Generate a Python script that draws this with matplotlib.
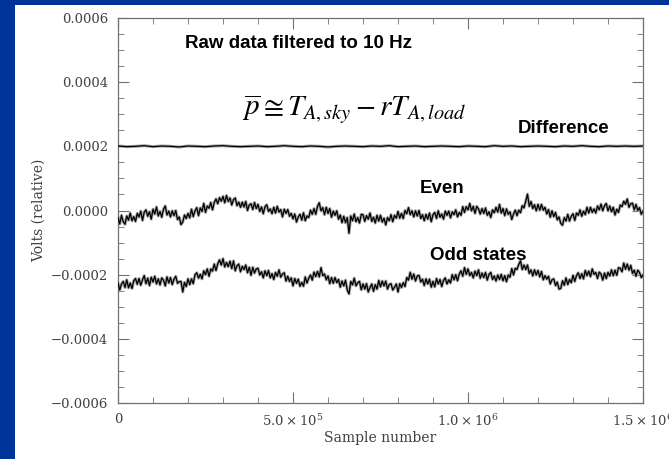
import numpy as np
import matplotlib
matplotlib.use("Agg")
import matplotlib.pyplot as plt
from matplotlib.patches import Rectangle
from matplotlib.ticker import MultipleLocator

# signal levels in microvolts, evenly spaced over 0 .. 1.5e6 samples
even_uv = [-22, -42, -15, -35, -43, -17, -30, -8, -32, -19,
           -34, -9, -20, -2, -31, -5, 2, -18, -4, -27,
           4, -11, 11, -17, -3, -21, 4, 14, -14, -2,
           -20, -1, -16, 0, -28, -20, -44, -36, -14, -25,
           -9, -23, 4, -19, -1, 9, -16, 8, -3, 22,
           -6, 14, 7, 25, 2, 25, 36, 21, 40, 29,
           44, 24, 47, 28, 39, 17, 34, 39, 15, 26,
           10, 26, 11, 28, 0, 17, 21, 3, 25, 6,
           19, -3, 11, -10, 12, 18, -3, 5, -10, 10,
           -8, 13, -5, 3, -20, 4, -9, 3, -18, -9,
           -26, -11, -36, -20, -12, -30, -7, -32, -17, -22,
           1, -12, 6, -12, 13, 24, -1, 9, -13, 10,
           -9, 6, -21, -2, -15, -1, -27, -14, -38, -18,
           -38, -22, -71, -17, -32, -11, -35, -22, -39, -12,
           -13, -34, -16, -27, -8, -34, -21, -39, -15, -33,
           -15, -36, -24, -45, -22, -32, -13, -35, -15, -24,
           -3, -24, -9, -25, 0, -10, 9, -13, -1, -20,
           -1, -17, 0, -25, -13, -32, -12, -27, -8, -35,
           -13, -6, -25, -1, -21, -11, -27, -2, -15, -2,
           -23, -4, -13, 2, -20, -6, -15, 12, -6, 12,
           2, 22, -1, 13, -9, 13, 5, -11, 6, -9,
           8, -15, -4, -22, 2, -7, 10, -5, 19, -8,
           6, -16, 5, -12, -4, -28, -11, 1, -16, 1,
           -7, 15, 8, 30, 51, 13, 28, 6, 18, -1,
           19, 1, 19, 1, 10, -11, 3, -21, -1, -19,
           -6, -29, -20, -40, -46, -22, -33, -12, -33, -18,
           -10, -31, -8, -15, 2, -18, -2, -13, 10, -8,
           10, -6, 5, -8, 14, 2, 20, -1, 15, 22,
           -1, 14, -4, 10, -14, 4, -6, 17, 12, 29,
           19, 36, 10, 21, 23, 2, 19, 0, 9, -12,
           -2]
odd_uv = [-226, -248, -229, -221, -240, -216, -241, -226, -243, -219,
          -212, -230, -212, -233, -216, -203, -228, -211, -234, -208,
          -223, -205, -229, -213, -232, -210, -217, -235, -207, -226,
          -209, -231, -214, -205, -227, -222, -221, -254, -224, -237,
          -213, -231, -213, -228, -200, -194, -211, -199, -213, -188,
          -200, -182, -205, -182, -189, -167, -187, -166, -154, -170,
          -150, -176, -162, -175, -158, -181, -157, -188, -172, -167,
          -191, -174, -184, -170, -194, -177, -202, -177, -195, -182,
          -180, -201, -191, -210, -188, -203, -187, -210, -197, -215,
          -193, -205, -185, -208, -198, -194, -220, -205, -221, -210,
          -235, -212, -227, -214, -236, -224, -236, -207, -226, -211,
          -201, -217, -192, -206, -190, -207, -178, -203, -198, -216,
          -204, -228, -209, -227, -209, -225, -215, -239, -220, -235,
          -217, -248, -260, -221, -232, -211, -235, -225, -221, -247,
          -229, -245, -228, -254, -240, -229, -252, -231, -245, -218,
          -238, -220, -235, -220, -245, -231, -228, -248, -239, -229,
          -254, -228, -240, -225, -237, -209, -217, -193, -214, -198,
          -220, -204, -202, -223, -214, -234, -213, -229, -214, -239,
          -221, -238, -212, -229, -215, -237, -218, -210, -229, -216,
          -226, -200, -216, -200, -219, -198, -188, -205, -178, -199,
          -182, -203, -193, -210, -189, -203, -185, -211, -195, -209,
          -193, -217, -199, -193, -215, -204, -220, -201, -215, -199,
          -219, -203, -222, -201, -208, -181, -201, -180, -184, -168,
          -157, -184, -170, -184, -170, -196, -185, -204, -185, -201,
          -187, -207, -190, -216, -203, -214, -205, -229, -216, -213,
          -234, -223, -245, -243, -219, -233, -210, -231, -215, -225,
          -202, -221, -203, -194, -212, -197, -213, -187, -203, -189,
          -206, -182, -199, -193, -212, -192, -198, -217, -195, -212,
          -193, -204, -185, -203, -186, -202, -178, -180, -191, -164,
          -183, -167, -186, -171, -196, -186, -205, -186, -193, -209,
          -201]
diff_uv = [201, 199, 200, 202, 199, 201, 200, 198, 201, 200,
           199, 201, 202, 200, 199, 200, 201, 199, 200, 202,
           200, 199, 201, 200, 198, 200, 201, 200, 199, 201,
           200, 202, 199, 200, 201, 199, 200, 201, 200, 199,
           201, 200, 199, 202, 200, 201, 199, 200, 201, 200,
           199, 201, 200, 202, 200, 199, 201, 200, 201, 200,
           201]

sample_max = 1.5e6
ytick_vals = [-0.0006, -0.0004, -0.0002, 0.0, 0.0002, 0.0004, 0.0006]
ytick_labels = ['\u22120.0006', '\u22120.0004', '\u22120.0002', '0.0000',
                '0.0002', '0.0004', '0.0006']
xtick_vals = [0, 5e5, 1e6, 1.5e6]
xtick_labels = ['0', r'$5.0\times10^{5}$', r'$1.0\times10^{6}$', r'$1.5\times10^{6}$']

plt.rcParams['mathtext.fontset'] = 'dejavuserif'
plt.rcParams['font.family'] = 'DejaVu Serif'

blue = '#003399'
grey = '#707070'

fig = plt.figure(figsize=(6.69, 4.59), dpi=100, facecolor=blue)
fig.patches.append(Rectangle((15 / 669, 0), 1, (459 - 5) / 459, transform=fig.transFigure,
                             facecolor='white', edgecolor='none', zorder=-5))
ax = fig.add_axes([118 / 669, (459 - 403) / 459, 525 / 669, 385 / 459])
ax.set_facecolor('white')

for vals in (even_uv, odd_uv, diff_uv):
    y = np.array(vals) * 1e-6
    x = np.arange(len(y)) * (sample_max / (len(y) - 1))
    ax.plot(x, y, color='#a8a8a8', lw=2.2, zorder=2)
    ax.plot(x, y, color='black', lw=0.9, zorder=3)

ax.set_xlim(0, sample_max)
ax.set_ylim(-0.0006, 0.0006)
ax.set_xticks(xtick_vals)
ax.set_xticklabels(xtick_labels)
ax.set_yticks(ytick_vals)
ax.set_yticklabels(ytick_labels)
ax.xaxis.set_minor_locator(MultipleLocator(1e5))
ax.yaxis.set_minor_locator(MultipleLocator(0.00005))
ax.tick_params(which='both', direction='in', top=True, right=True, color=grey,
               labelcolor='#404040', labelsize=9.5)
ax.tick_params(which='major', length=8, pad=7)
ax.tick_params(which='minor', length=4)
for s in ax.spines.values():
    s.set_color(grey)
    s.set_linewidth(0.9)

ax.set_xlabel('Sample number', color='#404040', fontsize=10, labelpad=2)
ax.set_ylabel('Volts (relative)', color='#404040', fontsize=10, labelpad=4)

bold = dict(family='Liberation Sans', weight='bold', fontsize=13.5, color='black')
ax.text(1.91e5, 0.000522, 'Raw data filtered to 10 Hz', va='center', ha='left', **bold)
ax.text(1.143e6, 0.000257, 'Difference', va='center', ha='left', **bold)
ax.text(8.63e5, 0.00007, 'Even', va='center', ha='left', **bold)
ax.text(8.91e5, -0.000139, 'Odd states', va='center', ha='left', **bold)

ax.text(3.54e5, 0.000318, r'$\overline{p}\cong T_{A,sky}-rT_{A,load}$',
        fontsize=21, ha='left', va='center', color='black',
        math_fontfamily='stix')

fig.savefig('out.png', dpi=100, facecolor=blue)
